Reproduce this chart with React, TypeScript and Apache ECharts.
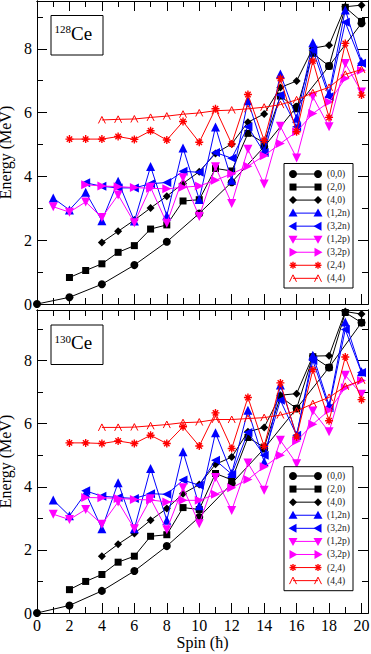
import React, { useEffect, useRef } from "react";
import * as echarts from "echarts";

// ---------- data ----------
const BAND_NAMES = ["(0,0)", "(2,0)", "(4,0)", "(1,2n)", "(3,2n)", "(1,2p)", "(3,2p)", "(2,4)", "(4,4)"];

const SPINS_EVEN = [0, 2, 4, 6, 8, 10, 12, 14, 16, 18, 20];
const SPINS_FROM1 = [1, 2, 3, 4, 5, 6, 7, 8, 9, 10, 11, 12, 13, 14, 15, 16, 17, 18, 19, 20];
const SPINS_FROM2 = [2, 3, 4, 5, 6, 7, 8, 9, 10, 11, 12, 13, 14, 15, 16, 17, 18, 19, 20];
const SPINS_FROM3 = [3, 4, 5, 6, 7, 8, 9, 10, 11, 12, 13, 14, 15, 16, 17, 18, 19, 20];
const SPINS_FROM4 = [4, 5, 6, 7, 8, 9, 10, 11, 12, 13, 14, 15, 16, 17, 18, 19, 20];

// 128Ce
const CE128_00 = [0, 0.21, 0.62, 1.22, 1.95, 2.84, 3.82, 4.93, 6.18, 7.46, 8.8];
const CE128_20 = [0.83, 1.05, 1.26, 1.62, 1.83, 2.35, 2.48, 3.23, 3.27, 4.25, 4.17, 5.35, 5.05, 6.52, 6.12, 7.86, 7.46, 9.3, 8.86];
const CE128_40 = [1.93, 2.28, 2.63, 3.01, 3.38, 3.78, 4.15, 4.72, 5.02, 5.7, 5.96, 6.79, 6.99, 8.02, 8.11, 9.32, 9.37];
const CE128_12N = [3.32, 2.95, 3.5, 2.61, 3.85, 2.6, 4.31, 2.77, 4.89, 3.28, 5.55, 3.88, 6.37, 4.8, 7.21, 5.82, 8.19, 6.6, 9.22, 7.6];
const CE128_32N = [3.8, 3.69, 3.64, 3.64, 3.77, 3.81, 4.16, 4.13, 4.75, 4.57, 5.56, 4.75, 6.55, 5.56, 7.96, 6.5, 8.83, 7.55];
const CE128_12P = [3.05, 2.88, 3.2, 2.71, 3.42, 2.55, 3.66, 2.53, 3.96, 2.74, 4.3, 3.15, 4.85, 3.76, 5.57, 4.58, 6.5, 5.56, 7.54, 6.65];
const CE128_32P = [3.74, 3.7, 3.68, 3.65, 3.63, 3.61, 3.66, 3.7, 3.88, 4.08, 4.32, 4.65, 5.03, 5.4, 5.97, 6.33, 7.07, 7.33];
const CE128_24 = [5.17, 5.17, 5.17, 5.25, 5.16, 5.43, 5.14, 5.72, 5.07, 6.12, 5.02, 6.57, 5.13, 7.07, 5.4, 7.62, 5.85, 8.17, 6.55];
const CE128_44 = [5.77, 5.79, 5.8, 5.85, 5.89, 5.95, 5.99, 6.06, 6.08, 6.12, 6.17, 6.25, 6.4, 6.62, 6.79, 7.2, 7.35];

// 130Ce
const CE130_00 = [0, 0.24, 0.7, 1.33, 2.12, 3.04, 4.1, 5.21, 6.48, 7.78, 9.2];
const CE130_20 = [0.74, 1.0, 1.22, 1.61, 1.8, 2.43, 2.48, 3.34, 3.28, 4.42, 4.22, 5.56, 5.25, 6.85, 6.48, 8.12, 7.78, 9.52, 9.2];
const CE130_40 = [1.8, 2.18, 2.52, 2.94, 3.31, 3.78, 4.07, 4.71, 4.94, 5.74, 5.88, 6.9, 6.95, 8.14, 8.15, 9.55, 9.47];
const CE130_12N = [3.58, 3.08, 3.8, 2.67, 4.13, 2.67, 4.58, 2.94, 5.11, 3.4, 5.71, 4.42, 6.42, 4.79, 7.22, 5.63, 8.17, 6.58, 9.22, 7.64];
const CE130_32N = [3.87, 3.7, 3.66, 3.63, 3.78, 3.76, 4.21, 4.05, 4.84, 4.4, 5.72, 5.0, 6.74, 5.63, 8.0, 6.5, 8.98, 7.62];
const CE130_12P = [3.13, 2.96, 3.28, 2.81, 3.52, 2.67, 3.62, 2.64, 3.97, 2.83, 4.29, 3.25, 4.75, 3.89, 5.47, 4.73, 6.4, 5.74, 7.53, 6.93];
const CE130_32P = [3.66, 3.65, 3.63, 3.6, 3.58, 3.52, 3.57, 3.57, 3.76, 3.97, 4.23, 4.63, 5.0, 5.45, 5.98, 6.42, 7.14, 7.37];
const CE130_24 = [5.39, 5.39, 5.37, 5.45, 5.37, 5.63, 5.37, 5.9, 5.29, 6.34, 5.21, 6.83, 5.28, 7.29, 5.58, 7.71, 6.09, 8.11, 6.76];
const CE130_44 = [5.88, 5.88, 5.89, 5.93, 5.97, 6.03, 6.05, 6.13, 6.13, 6.16, 6.19, 6.27, 6.4, 6.63, 6.83, 7.18, 7.37];

const BAND_SPINS = [SPINS_EVEN, SPINS_FROM2, SPINS_FROM4, SPINS_FROM1, SPINS_FROM3, SPINS_FROM1, SPINS_FROM3, SPINS_FROM2, SPINS_FROM4];
const CE128 = [CE128_00, CE128_20, CE128_40, CE128_12N, CE128_32N, CE128_12P, CE128_32P, CE128_24, CE128_44];
const CE130 = [CE130_00, CE130_20, CE130_40, CE130_12N, CE130_32N, CE130_12P, CE130_32P, CE130_24, CE130_44];

const X_TICK_LABELS = ["0", "2", "4", "6", "8", "10", "12", "14", "16", "18", "20"];
const Y_TICK_LABELS = ["0", "2", "4", "6", "8"];

// ---------- styles ----------
const FONT = "'Liberation Serif', 'Times New Roman', Times, serif";
const BLACK = "#000000";
const BLUE = "#0000ff";
const MAGENTA = "#ff00ff";
const RED = "#ff0000";

const ASTERISK = "path://M5,0L5,10M0,5L10,5M1.6,1.6L8.4,8.4M1.6,8.4L8.4,1.6";
const OPEN_A = "path://M0,10L5,0L10,10";

type Style = { color: string; symbol: string; size: number; rotate: number; kind: string };
const BAND_STYLES: Style[] = [
  { color: BLACK, symbol: "circle", size: 8, rotate: 0, kind: "circle" },
  { color: BLACK, symbol: "rect", size: 7, rotate: 0, kind: "rect" },
  { color: BLACK, symbol: "diamond", size: 8, rotate: 0, kind: "diamond" },
  { color: BLUE, symbol: "triangle", size: 9, rotate: 0, kind: "up" },
  { color: BLUE, symbol: "triangle", size: 9, rotate: 90, kind: "left" },
  { color: MAGENTA, symbol: "triangle", size: 9, rotate: 180, kind: "down" },
  { color: MAGENTA, symbol: "triangle", size: 9, rotate: -90, kind: "right" },
  { color: RED, symbol: ASTERISK, size: 8, rotate: 0, kind: "asterisk" },
  { color: RED, symbol: OPEN_A, size: 7, rotate: 0, kind: "openA" },
];

const X_MAX = 20.4;
const Y_MAX_TOP = 9.5;
const Y_MAX_BOTTOM = 9.6;

const GRID_LEFT = 37;
const GRID_WIDTH = 331;
const GRID_HEIGHT = 303;
const GRID_TOPS = [1, 310];

function xFormatter(v: number) {
  const s = String(v);
  return X_TICK_LABELS.includes(s) ? s : "";
}
function yFormatter(v: number) {
  const s = String(v);
  return Y_TICK_LABELS.includes(s) ? s : "";
}

function xAxesFor(gridIndex: number, showLabels: boolean) {
  const base = (position: string, interval: number, tickLen: number, labels: boolean) => ({
    type: "value",
    gridIndex,
    position,
    min: 0,
    max: X_MAX,
    interval,
    axisLine: { show: true, onZero: false, lineStyle: { color: BLACK, width: 1 } },
    axisTick: { show: true, inside: true, length: tickLen, lineStyle: { color: BLACK, width: 1 } },
    axisLabel: {
      show: labels,
      formatter: xFormatter,
      margin: 4,
      fontSize: 16,
      color: BLACK,
      fontFamily: FONT,
    },
    splitLine: { show: false },
    name: labels ? "Spin (ħ)" : "",
    nameLocation: "middle",
    nameGap: 21,
    nameTextStyle: { fontSize: 16, color: BLACK, fontFamily: FONT },
  });
  return [
    base("bottom", 2, 10, showLabels),
    base("bottom", 1, 6, false),
    base("top", 2, 10, false),
    base("top", 1, 6, false),
  ];
}

function yAxesFor(gridIndex: number, max: number) {
  const base = (position: string, interval: number, tickLen: number, labels: boolean) => ({
    type: "value",
    gridIndex,
    position,
    min: 0,
    max,
    interval,
    axisLine: { show: true, onZero: false, lineStyle: { color: BLACK, width: 1 } },
    axisTick: { show: true, inside: true, length: tickLen, lineStyle: { color: BLACK, width: 1 } },
    axisLabel: {
      show: labels,
      formatter: yFormatter,
      margin: 5,
      fontSize: 16,
      color: BLACK,
      fontFamily: FONT,
    },
    splitLine: { show: false },
    name: labels ? "Energy (MeV)" : "",
    nameLocation: "middle",
    nameGap: 15,
    nameTextStyle: { fontSize: 16, color: BLACK, fontFamily: FONT },
  });
  return [
    base("left", 2, 10, true),
    base("left", 1, 6, false),
    base("right", 2, 10, false),
    base("right", 1, 6, false),
  ];
}

function seriesFor(values: number[][], axisIndex: number) {
  return values.map((vals, b) => {
    const st = BAND_STYLES[b];
    const spins = BAND_SPINS[b];
    const isPath = st.kind === "asterisk" || st.kind === "openA";
    return {
      type: "line",
      name: BAND_NAMES[b],
      xAxisIndex: axisIndex,
      yAxisIndex: axisIndex,
      data: vals.map((v, i) => [spins[i], v]),
      symbol: st.symbol,
      symbolSize: st.size,
      symbolRotate: st.rotate,
      showSymbol: true,
      showAllSymbol: true,
      silent: true,
      lineStyle: { color: st.color, width: 1 },
      itemStyle: isPath
        ? { color: st.kind === "openA" ? "none" : st.color, borderColor: st.color, borderWidth: st.kind === "openA" ? 1 : 1.4 }
        : { color: st.color, borderWidth: 0 },
      z: 2 + b * 0.01,
    };
  });
}

// ---------- legend / inset graphics ----------
function marker(kind: string, cx: number, cy: number, color: string): any[] {
  const fill = { fill: color };
  switch (kind) {
    case "circle":
      return [{ type: "circle", shape: { cx, cy, r: 4 }, style: fill }];
    case "rect":
      return [{ type: "rect", shape: { x: cx - 3.5, y: cy - 3.5, width: 7, height: 7 }, style: fill }];
    case "diamond":
      return [{ type: "polygon", shape: { points: [[cx, cy - 4], [cx + 4, cy], [cx, cy + 4], [cx - 4, cy]] }, style: fill }];
    case "up":
      return [{ type: "polygon", shape: { points: [[cx, cy - 4.5], [cx + 4.5, cy + 3.5], [cx - 4.5, cy + 3.5]] }, style: fill }];
    case "down":
      return [{ type: "polygon", shape: { points: [[cx, cy + 4.5], [cx + 4.5, cy - 3.5], [cx - 4.5, cy - 3.5]] }, style: fill }];
    case "left":
      return [{ type: "polygon", shape: { points: [[cx - 4.5, cy], [cx + 3.5, cy - 4.5], [cx + 3.5, cy + 4.5]] }, style: fill }];
    case "right":
      return [{ type: "polygon", shape: { points: [[cx + 4.5, cy], [cx - 3.5, cy - 4.5], [cx - 3.5, cy + 4.5]] }, style: fill }];
    case "asterisk": {
      const r = 3.5;
      const d = 2.5;
      const st = { stroke: color, lineWidth: 1.4 };
      return [
        { type: "line", shape: { x1: cx - r, y1: cy, x2: cx + r, y2: cy }, style: st },
        { type: "line", shape: { x1: cx, y1: cy - r, x2: cx, y2: cy + r }, style: st },
        { type: "line", shape: { x1: cx - d, y1: cy - d, x2: cx + d, y2: cy + d }, style: st },
        { type: "line", shape: { x1: cx - d, y1: cy + d, x2: cx + d, y2: cy - d }, style: st },
      ];
    }
    case "openA":
      return [
        {
          type: "polyline",
          shape: { points: [[cx - 3.5, cy + 3.5], [cx, cy - 3.5], [cx + 3.5, cy + 3.5]] },
          style: { stroke: color, lineWidth: 1, fill: "none" },
        },
      ];
  }
  return [];
}

function legendGraphics(boxTop: number, boxBottom: number, row0: number, dy: number): any[] {
  const els: any[] = [
    {
      type: "rect",
      shape: { x: 284, y: boxTop, width: 69, height: boxBottom - boxTop },
      style: { fill: "#ffffff", stroke: BLACK, lineWidth: 1 },
    },
  ];
  BAND_NAMES.forEach((name, i) => {
    const st = BAND_STYLES[i];
    const y = row0 + dy * i;
    els.push({ type: "line", shape: { x1: 293, y1: y, x2: 318, y2: y }, style: { stroke: st.color, lineWidth: 1 } });
    els.push(...marker(st.kind, 293, y, st.color));
    els.push(...marker(st.kind, 318, y, st.color));
    els.push({
      type: "text",
      x: 327,
      y,
      style: { text: name, fontSize: 9.5, fontFamily: FONT, fill: "#222222", verticalAlign: "middle", align: "left" },
    });
  });
  return els;
}

function insetGraphics(boxTop: number, mass: string): any[] {
  return [
    {
      type: "rect",
      shape: { x: 51, y: boxTop, width: 52, height: 39.5 },
      style: { fill: "#ffffff", stroke: BLACK, lineWidth: 1 },
    },
    {
      type: "text",
      x: 54.5,
      y: boxTop + 8.2,
      style: {
        text: `{sup|${mass}}{ce|Ce}`,
        fontFamily: FONT,
        fill: BLACK,
        align: "left",
        verticalAlign: "top",
        rich: {
          sup: { fontSize: 11, lineHeight: 11, verticalAlign: "top", fontFamily: FONT, fill: BLACK },
          ce: { fontSize: 19, lineHeight: 19, padding: [6, 0, 0, 0], verticalAlign: "bottom", fontFamily: FONT, fill: BLACK },
        },
      },
    },
  ];
}

export default function App() {
  const ref = useRef<HTMLDivElement>(null);

  useEffect(() => {
    if (!ref.current) return;
    const chart = echarts.init(ref.current, undefined, { renderer: "svg" });

    const graphics = [
      ...insetGraphics(15.5, "128"),
      ...insetGraphics(325, "130"),
      ...legendGraphics(163.5, 288, 174, 13.04),
      ...legendGraphics(466.7, 590.7, 476, 13.08),
    ].map((e) => ({ ...e, z: 100 }));

    chart.setOption({
      animation: false,
      backgroundColor: "#ffffff",
      textStyle: { fontFamily: FONT },
      grid: GRID_TOPS.map((top) => ({
        left: GRID_LEFT,
        top,
        width: GRID_WIDTH,
        height: GRID_HEIGHT,
        containLabel: false,
        outerBoundsMode: "none",
      })),
      xAxis: [...xAxesFor(0, false), ...xAxesFor(1, true)],
      yAxis: [...yAxesFor(0, Y_MAX_TOP), ...yAxesFor(1, Y_MAX_BOTTOM)],
      series: [...seriesFor(CE128, 0), ...seriesFor(CE130, 4)],
      graphic: { elements: graphics },
    });

    return () => chart.dispose();
  }, []);

  return (
    <div
      ref={ref}
      style={{ position: "fixed", left: 0, top: 0, width: 371, height: 654, background: "#fff" }}
    />
  );
}
